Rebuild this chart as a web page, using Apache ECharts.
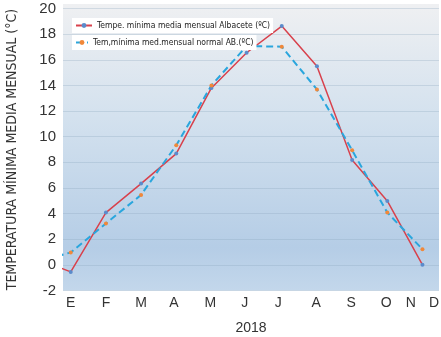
<!DOCTYPE html>
<html><head><meta charset="utf-8">
<script src="https://cdn.jsdelivr.net/npm/echarts@6/dist/echarts.min.js"></script>
<style>html,body{margin:0;padding:0;background:#fff}#c{width:441px;height:337px}</style>
</head><body><div id="c"></div>
<script>
// month positions (0 = E 2018; -1 = previous December, clipped at left edge)
var monthPos = [-1, 0, 1, 2, 3, 4, 5, 6, 7, 8, 9, 10];
var albacete = [0.5, -0.55, 4.08, 6.34, 8.68, 13.8, 16.55, 18.63, 15.5, 8.18, 4.99, 0.0];
var normal   = [0.2, 0.97, 3.23, 5.46, 9.33, 14.0, 17.07, 17.02, 13.69, 8.94, 4.08, 1.22];
var monthLabels = ['E','F','M','A','M','J','J','A','S','O','N','D'];
var labelPos = [0, 1, 2, 2.93, 3.97, 4.95, 5.9, 6.98, 7.97, 8.97, 9.67, 10.33];
var seriesNames = ['Tempe. mínima media mensual Albacete (ºC)', 'Tem,mínima med.mensual normal AB.(ºC)'];
var yTicks = [-2, 20, 2];
var xTitle = '2018';
var yTitle = 'TEMPERATURA MÍNIMA MEDIA MENSUAL (°C)';

function pairs(xs, ys){ return xs.map(function(x,i){ return [x, ys[i]]; }); }

var chart = echarts.init(document.getElementById('c'));
var font = 'Liberation Sans';
var narrow = '"DejaVu Sans Condensed", "Liberation Sans"';
chart.setOption({
  animation: false,
  graphic: [{
    type: 'rect', z: -10, silent: true,
    shape: { x: 63, y: 4, width: 376, height: 286.5 },
    style: { fill: new echarts.graphic.LinearGradient(0, 0, 0, 1, [
      { offset: 0, color: '#eff0f2' },
      { offset: 0.4, color: '#d3e1ee' },
      { offset: 0.85, color: '#b5cde6' },
      { offset: 1, color: '#c3d7eb' }
    ]) }
  }],
  grid: { left: 63, right: 2, top: 8.5, bottom: 46.5, outerBoundsMode: 'none', containLabel: false },
  legend: [{
    data: [seriesNames[0]], left: 72, top: 18, orient: 'vertical',
    backgroundColor: '#ffffff', padding: [3, 3, 3, 3],
    itemWidth: 16, itemHeight: 6, itemGap: 3,
    textStyle: { fontFamily: narrow, fontSize: 8.5, color: '#222' }
  }, {
    data: [seriesNames[1]], left: 72, top: 35, orient: 'vertical',
    backgroundColor: '#ffffff', padding: [3, 3, 3, 3],
    itemWidth: 12, itemHeight: 6, itemGap: 3,
    textStyle: { fontFamily: narrow, fontSize: 8.5, color: '#222' }
  }],
  xAxis: {
    type: 'value', min: -0.22, max: 10.47,
    name: xTitle, nameLocation: 'middle', nameGap: 31,
    nameTextStyle: { fontFamily: font, fontSize: 14, color: '#333' },
    axisLine: { show: false }, axisTick: { show: false }, splitLine: { show: false },
    axisLabel: {
      customValues: labelPos, margin: 6,
      fontFamily: font, fontSize: 14, color: '#333',
      formatter: function(v){ var i = labelPos.indexOf(v); return i >= 0 ? monthLabels[i] : ''; }
    }
  },
  yAxis: {
    type: 'value', min: yTicks[0], max: yTicks[1], interval: yTicks[2],
    name: yTitle, nameLocation: 'middle', nameGap: 44,
    nameTextStyle: { fontFamily: narrow, fontSize: 14, color: '#333' },
    axisLine: { show: false }, axisTick: { show: false },
    axisLabel: { fontFamily: font, fontSize: 15, color: '#333', margin: 7 },
    splitLine: { lineStyle: { color: 'rgba(140,165,190,0.3)', width: 1 } }
  },
  series: [{
    name: seriesNames[0], type: 'line', clip: true,
    data: pairs(monthPos, albacete),
    symbol: 'circle', symbolSize: 4,
    lineStyle: { color: '#d8414c', width: 1.5 },
    itemStyle: { color: '#5b8bcb' }
  }, {
    name: seriesNames[1], type: 'line', clip: true,
    data: pairs(monthPos, normal),
    symbol: 'circle', symbolSize: 4,
    lineStyle: { color: '#2aa6dd', width: 2, type: [7, 4] },
    itemStyle: { color: '#f0883a' }
  }]
});
</script></body></html>
